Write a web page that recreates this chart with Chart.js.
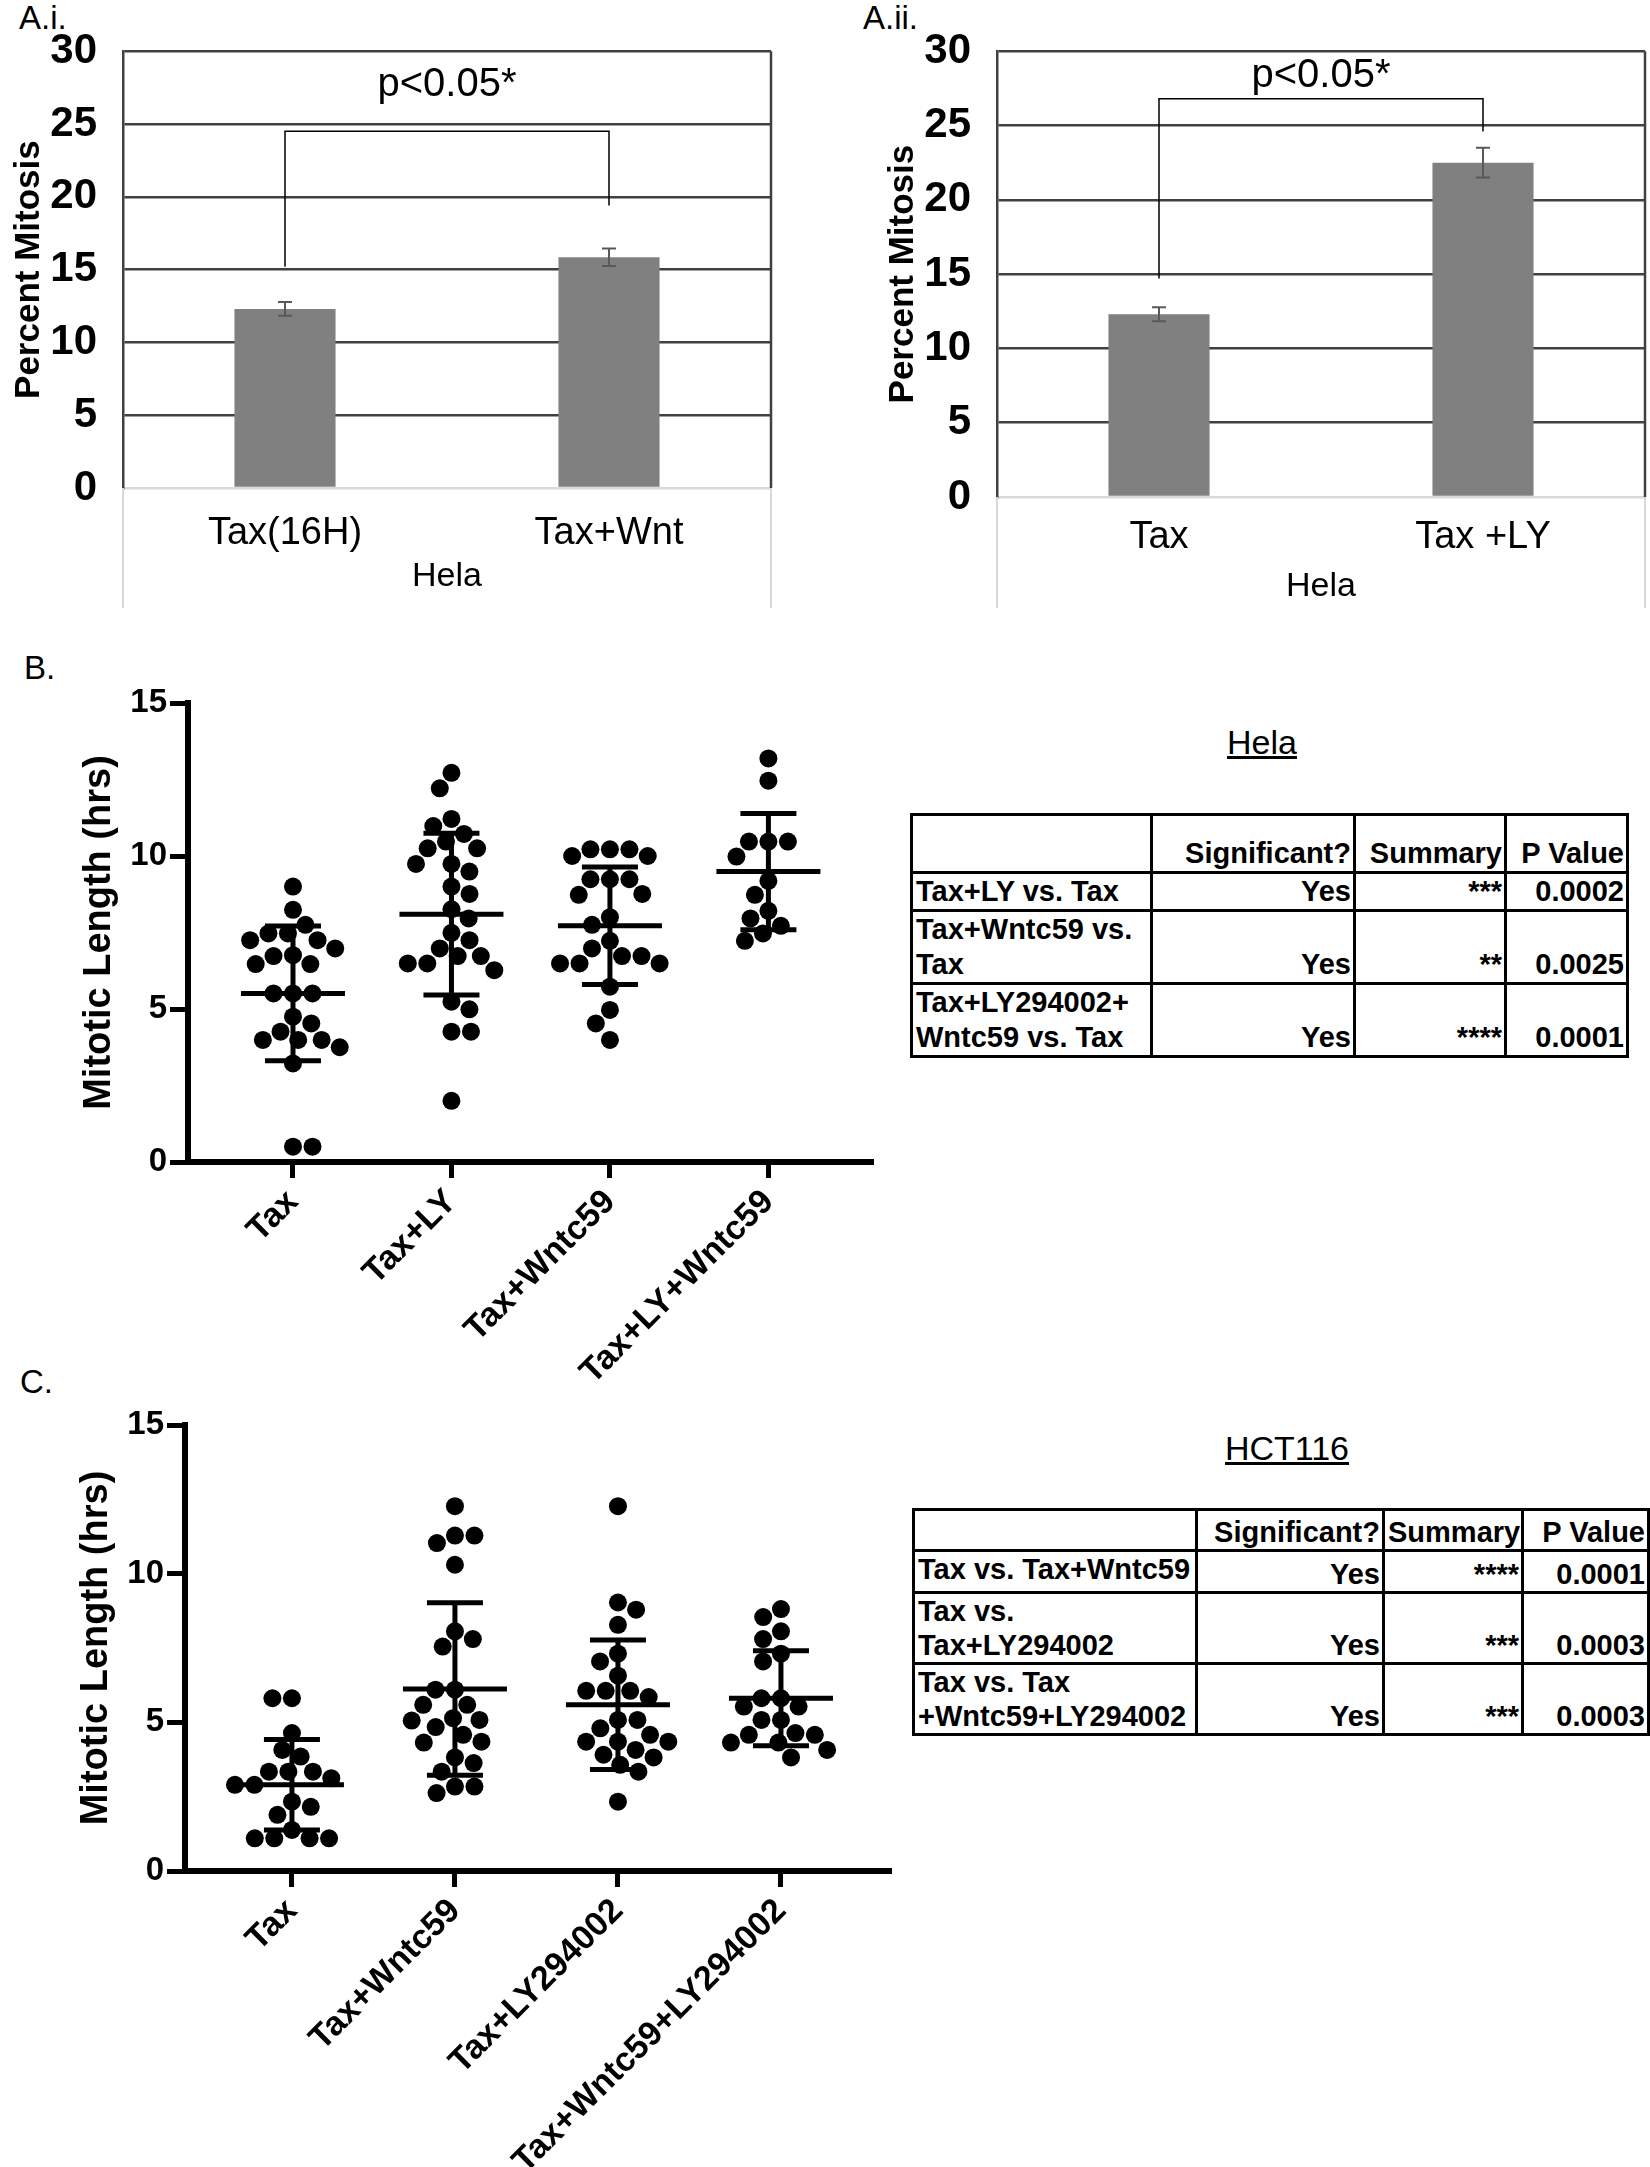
<!DOCTYPE html>
<html>
<head>
<meta charset="utf-8">
<script src="https://cdn.jsdelivr.net/npm/chart.js@4.4.0/dist/chart.umd.min.js"></script>
<style>
  body { margin: 0; background: #fff; font-family: 'Liberation Sans', Arial, sans-serif; color: #000; }
  #page { position: relative; width: 1650px; height: 2167px; overflow: hidden; }
  .box { position: absolute; }
  .lbl { position: absolute; font-size: 33px; line-height: 36px; }
  .ttl { position: absolute; font-size: 34px; line-height: 40px; text-decoration: underline; transform: translateX(-50%); }
  table.stats { position: absolute; border-collapse: collapse; table-layout: fixed; font-weight: bold; font-size: 29px; }
  table.stats td { border: 3px solid #000; padding: 0 2px 0 3px; vertical-align: bottom; text-align: right; white-space: pre; overflow: hidden; }
  table.stats td.name { text-align: left; vertical-align: top; }
</style>
</head>
<body>
<div id="page">
  <div class="lbl" style="left:19px;top:0px">A.i.</div>
  <div class="lbl" style="left:863px;top:0px">A.ii.</div>
  <div class="lbl" style="left:24px;top:650px">B.</div>
  <div class="lbl" style="left:20px;top:1364px">C.</div>
  <div class="ttl" style="left:1262px;top:722px">Hela</div>
  <div class="ttl" style="left:1287px;top:1428px">HCT116</div>

  <div class="box" style="left:0;top:0;width:810px;height:620px"><canvas id="chartAi"></canvas></div>
  <div class="box" style="left:840px;top:0;width:810px;height:620px"><canvas id="chartAii"></canvas></div>
  <div class="box" style="left:0;top:660px;width:900px;height:720px"><canvas id="chartB"></canvas></div>
  <div class="box" style="left:0;top:1380px;width:910px;height:787px"><canvas id="chartC"></canvas></div>

  <table class="stats" id="tableB" style="left:910px;top:813px;width:716px"></table>
  <table class="stats" id="tableC" style="left:912px;top:1508px;width:735px"></table>
</div>

<script>
// ---- Panel A data (percent mitosis, Hela) ----
const aiCategories = ["Tax(16H)", "Tax+Wnt"];
const aiValues = [12.3, 15.85];
const aiErrors = [0.47, 0.6];
const aiBracket = [15.2, 24.5, 19.4]; // left leg end, top, right leg end
const aiPLevel = 27.7;

const aiiCategories = ["Tax", "Tax +LY"];
const aiiValues = [12.3, 22.5];
const aiiErrors = [0.47, 1.0];
const aiiBracket = [14.7, 26.8, 24.6];
const aiiPLevel = 28.3;

const aGroup = "Hela";
const aYTitle = "Percent Mitosis";
const aPText = "p<0.05*";

// ---- Panel B data (mitotic length, Hela) ----
const bCategories = ["Tax", "Tax+LY", "Tax+Wntc59", "Tax+LY+Wntc59"];
const bTax = [9.0, 8.24, 7.75, 7.47, 7.47, 7.25, 7.25, 6.98, 6.76, 6.73, 6.47, 6.47, 5.51, 5.51, 5.51, 4.75, 4.53, 4.26, 3.99, 3.99, 3.99, 3.75, 3.22, 0.5, 0.5];
const bTaxLY = [12.72, 12.21, 11.21, 10.98, 10.72, 10.47, 10.25, 10.25, 9.74, 9.74, 9.49, 9.0, 8.76, 8.26, 7.96, 7.49, 7.25, 6.98, 6.73, 6.73, 6.49, 6.49, 6.27, 5.24, 4.99, 4.26, 4.26, 2.0];
const bTaxWnt = [10.22, 10.22, 10.22, 10.0, 10.0, 9.24, 9.24, 9.24, 8.76, 8.73, 8.0, 7.75, 7.23, 6.98, 6.73, 6.73, 6.49, 6.49, 6.49, 5.73, 4.97, 4.53, 3.99];
const bTaxLYWnt = [13.19, 12.46, 10.47, 10.47, 10.47, 9.98, 9.19, 8.73, 8.21, 7.96, 7.72, 7.47, 7.23];
const bMeans = [5.51, 8.1, 7.72, 9.49];
const bSds = [2.2, 2.64, 1.92, 1.9];

// ---- Panel C data (mitotic length, HCT116) ----
const cCategories = ["Tax", "Tax+Wntc59", "Tax+LY294002", "Tax+Wntc59+LY294002"];
const cTax = [5.81, 5.81, 4.64, 4.07, 3.85, 3.34, 3.34, 3.34, 3.12, 2.9, 2.9, 2.33, 2.16, 1.89, 1.38, 1.1, 1.1, 1.1, 1.1];
const cTaxWnt = [12.27, 11.28, 11.28, 11.03, 10.3, 8.06, 7.8, 7.55, 6.1, 6.1, 5.59, 5.59, 5.14, 5.08, 5.06, 4.84, 4.58, 4.35, 4.32, 3.82, 3.63, 3.34, 2.84, 2.84, 2.62];
const cTaxLY = [12.27, 9.03, 8.79, 8.28, 7.31, 7.05, 6.57, 6.06, 6.06, 6.06, 5.85, 5.08, 5.08, 4.8, 4.58, 4.35, 4.35, 4.35, 4.07, 3.91, 3.82, 3.57, 3.34, 2.33];
const cTaxWntLY = [8.81, 8.54, 8.06, 7.8, 7.31, 7.05, 5.81, 5.81, 5.53, 5.53, 5.08, 5.08, 4.64, 4.58, 4.58, 4.32, 4.32, 4.07, 3.82];
const cMeans = [2.9, 6.12, 5.59, 5.81];
const cSds = [1.52, 2.9, 2.18, 1.6];

const scatterYTitle = "Mitotic Length (hrs)";

// ---- Tables ----
const tableHead = ["", "Significant?", "Summary", "P Value"];
const bTableRows = [
  ["Tax+LY vs. Tax", "Yes", "***", "0.0002"],
  ["Tax+Wntc59 vs.\nTax", "Yes", "**", "0.0025"],
  ["Tax+LY294002+\nWntc59 vs. Tax", "Yes", "****", "0.0001"]
];
const cTableRows = [
  ["Tax vs. Tax+Wntc59", "Yes", "****", "0.0001"],
  ["Tax vs.\nTax+LY294002", "Yes", "***", "0.0003"],
  ["Tax vs. Tax\n+Wntc59+LY294002", "Yes", "***", "0.0003"]
];

const FONT = "'Liberation Sans', Arial, sans-serif";

Chart.defaults.font.family = FONT;
Chart.defaults.color = "#000";
Chart.defaults.animation = false;
Chart.defaults.events = [];
Chart.defaults.plugins.legend.display = false;
Chart.defaults.plugins.tooltip.enabled = false;

// Excel-style extras: right frame, category box, error bars, significance bracket
const barExtras = {
  id: "barExtras",
  afterDraw(chart, args, o) {
    const { ctx, chartArea: a, scales: { x, y } } = chart;
    const vals = chart.data.datasets[0].data;
    ctx.save();
    ctx.strokeStyle = "#404040";
    ctx.lineWidth = 2.5;
    ctx.beginPath();
    ctx.moveTo(a.right, a.top);
    ctx.lineTo(a.right, a.bottom);
    ctx.stroke();

    ctx.strokeStyle = "#d9d9d9";
    ctx.lineWidth = 2;
    ctx.beginPath();
    ctx.moveTo(a.left, a.bottom);
    ctx.lineTo(a.left, o.boxBottom);
    ctx.moveTo(a.right, a.bottom);
    ctx.lineTo(a.right, o.boxBottom);
    ctx.stroke();

    ctx.strokeStyle = "#595959";
    ctx.lineWidth = 2;
    o.errors.forEach((e, i) => {
      const cx = x.getPixelForValue(i);
      const y1 = y.getPixelForValue(vals[i] + e);
      const y2 = y.getPixelForValue(vals[i] - e);
      ctx.beginPath();
      ctx.moveTo(cx, y1); ctx.lineTo(cx, y2);
      ctx.moveTo(cx - 7, y1); ctx.lineTo(cx + 7, y1);
      ctx.moveTo(cx - 7, y2); ctx.lineTo(cx + 7, y2);
      ctx.stroke();
    });

    const [l, t, r] = o.bracket;
    const x0 = x.getPixelForValue(0), x1 = x.getPixelForValue(1);
    ctx.strokeStyle = "#000";
    ctx.lineWidth = 1.5;
    ctx.beginPath();
    ctx.moveTo(x0, y.getPixelForValue(l));
    ctx.lineTo(x0, y.getPixelForValue(t));
    ctx.lineTo(x1, y.getPixelForValue(t));
    ctx.lineTo(x1, y.getPixelForValue(r));
    ctx.stroke();

    ctx.font = "40px " + FONT;
    ctx.fillStyle = "#000";
    ctx.textAlign = "center";
    ctx.textBaseline = "middle";
    ctx.fillText(o.pText, (a.left + a.right) / 2, y.getPixelForValue(o.pLevel));
    ctx.restore();
  }
};

function barPanel(id, cats, vals, errs, bracket, pLevel, lay) {
  return new Chart(document.getElementById(id), {
    type: "bar",
    data: {
      labels: cats,
      datasets: [{ data: vals, backgroundColor: "#808080", barPercentage: 0.312, categoryPercentage: 1 }]
    },
    options: {
      responsive: true,
      maintainAspectRatio: false,
      layout: { padding: { top: 48, right: lay.padRight, left: 0, bottom: 0 } },
      plugins: {
        barExtras: { errors: errs, bracket: bracket, pLevel: pLevel, pText: aPText, boxBottom: 608 }
      },
      scales: {
        x: {
          grid: { display: false },
          border: { display: true, color: "#d9d9d9", width: 2 },
          ticks: { font: { size: 38 }, padding: lay.labelMid - 22.8, maxRotation: 0, autoSkip: false },
          title: { display: true, text: aGroup, font: { size: 34 }, padding: { top: 0, bottom: lay.groupOffset - 20.4 } },
          afterFit: (s) => { s.height = lay.xHeight; }
        },
        y: {
          min: 0,
          max: 30,
          ticks: { stepSize: 5, font: { size: 42, weight: "bold" }, padding: 26 },
          grid: {
            color: (c) => (c.tick && c.tick.value === 0 ? "#d9d9d9" : "#404040"),
            lineWidth: 2.5,
            drawTicks: false
          },
          border: { display: true, color: "#404040", width: 2.5 },
          title: { display: true, text: aYTitle, font: { size: 35, weight: "bold" }, padding: { top: lay.titleMid - 21 } },
          afterFit: (s) => { s.width = lay.yWidth; }
        }
      }
    },
    plugins: [barExtras]
  });
}

barPanel("chartAi", aiCategories, aiValues, aiErrors, aiBracket, aiPLevel,
  { padRight: 39, labelMid: 38, groupOffset: 43, xHeight: 132, titleMid: 29, yWidth: 123 });
barPanel("chartAii", aiiCategories, aiiValues, aiiErrors, aiiBracket, aiiPLevel,
  { padRight: 5, labelMid: 33, groupOffset: 33, xHeight: 123, titleMid: 63, yWidth: 157 });

// GraphPad-style mean and SD lines
const meanSd = {
  id: "meanSd",
  afterDatasetsDraw(chart, args, o) {
    const { ctx, scales: { x, y } } = chart;
    ctx.save();
    ctx.strokeStyle = "#000";
    ctx.lineWidth = 5;
    o.means.forEach((m, i) => {
      const cx = x.getPixelForValue(i + 1);
      const ym = y.getPixelForValue(m);
      const yt = y.getPixelForValue(m + o.sds[i]);
      const yb = y.getPixelForValue(m - o.sds[i]);
      ctx.beginPath();
      ctx.moveTo(cx - 52, ym); ctx.lineTo(cx + 52, ym);
      ctx.moveTo(cx - 28, yt); ctx.lineTo(cx + 28, yt);
      ctx.moveTo(cx - 28, yb); ctx.lineTo(cx + 28, yb);
      ctx.moveTo(cx, yt); ctx.lineTo(cx, yb);
      ctx.stroke();
    });
    ctx.restore();
  }
};

// beeswarm: spread dots sideways so they do not overlap (pixel offsets)
function swarm(values, yScale, diam) {
  const order = values.map((v, i) => i).sort((a, b) => values[b] - values[a]);
  const placed = [];
  const offs = new Array(values.length);
  order.forEach((i, n) => {
    const py = yScale.getPixelForValue(values[i]);
    const cands = [0];
    placed.forEach((p) => {
      const dy = Math.abs(p.y - py);
      if (dy < diam) {
        const dx = Math.sqrt(diam * diam - dy * dy);
        cands.push(p.x + dx, p.x - dx);
      }
    });
    const side = n % 2 ? -1 : 1;
    cands.sort((a, b) => Math.abs(a) - Math.abs(b) || side * (b - a));
    const px = cands.find((c) => placed.every((p) => (p.x - c) ** 2 + (p.y - py) ** 2 >= diam * diam - 0.5));
    placed.push({ x: px, y: py });
    offs[i] = px;
  });
  return offs;
}

function scatterPanel(id, cats, groups, means, sds, range, lay) {
  const chart = new Chart(document.getElementById(id), {
    type: "scatter",
    data: {
      datasets: [{
        data: groups.flatMap((g, i) => g.map((v) => ({ x: i + 1, y: v }))),
        backgroundColor: "#000",
        borderWidth: 0,
        pointRadius: 9,
        clip: false
      }]
    },
    options: {
      responsive: true,
      maintainAspectRatio: false,
      layout: { padding: { top: lay.top, right: lay.padRight, left: 0, bottom: 0 } },
      plugins: { meanSd: { means: means, sds: sds } },
      scales: {
        x: {
          type: "linear",
          min: range[0],
          max: range[1],
          afterBuildTicks: (s) => { s.ticks = cats.map((c, i) => ({ value: i + 1 })); },
          ticks: {
            callback: (v) => cats[v - 1],
            minRotation: 45,
            maxRotation: 45,
            autoSkip: false,
            font: { size: 34, weight: "bold" },
            padding: 4
          },
          grid: { drawOnChartArea: false, drawTicks: true, tickLength: 16, tickWidth: 5, tickColor: "#000" },
          border: { display: true, width: 6, color: "#000" },
          afterFit: (s) => { s.height = lay.xHeight; }
        },
        y: {
          min: 0,
          max: 15,
          ticks: { stepSize: 5, font: { size: 33, weight: "bold" }, padding: 3 },
          grid: { drawOnChartArea: false, drawTicks: true, tickLength: 18, tickWidth: 5, tickColor: "#000" },
          border: { display: true, width: 6, color: "#000" },
          title: { display: true, text: scatterYTitle, font: { size: 38, weight: "bold" }, padding: { top: lay.titleMid - 22.8 } },
          afterFit: (s) => { s.width = lay.yWidth; }
        }
      }
    },
    plugins: [meanSd]
  });
  const xs = chart.scales.x, ys = chart.scales.y;
  const unit = xs.getPixelForValue(2) - xs.getPixelForValue(1);
  chart.data.datasets[0].data = groups.flatMap((g, i) =>
    swarm(g, ys, 19.5).map((dx, k) => ({ x: i + 1 + dx / unit, y: g[k] })));
  chart.update("none");
  return chart;
}

scatterPanel("chartB", bCategories, [bTax, bTaxLY, bTaxWnt, bTaxLYWnt], bMeans, bSds, [0.3375, 4.66],
  { top: 43, padRight: 27, xHeight: 218, yWidth: 188, titleMid: 100 });
scatterPanel("chartC", cCategories, [cTax, cTaxWnt, cTaxLY, cTaxWntLY], cMeans, cSds, [0.344, 4.675],
  { top: 45, padRight: 19, xHeight: 296, yWidth: 185, titleMid: 97 });

// stats tables
function buildTable(id, head, rows, colWidths, rowHeights, lineHeight) {
  const t = document.getElementById(id);
  const cg = document.createElement("colgroup");
  colWidths.forEach((w) => {
    const c = document.createElement("col");
    c.style.width = w + "px";
    cg.appendChild(c);
  });
  t.appendChild(cg);
  [head].concat(rows).forEach((r, ri) => {
    const tr = document.createElement("tr");
    tr.style.height = rowHeights[ri] + "px";
    r.forEach((txt, ci) => {
      const td = document.createElement("td");
      if (ci === 0 && ri > 0) td.className = "name";
      td.style.lineHeight = lineHeight + "px";
      td.textContent = txt;
      tr.appendChild(td);
    });
    t.appendChild(tr);
  });
}
buildTable("tableB", tableHead, bTableRows, [240, 203, 151, 122], [58, 37, 72, 73], 35);
buildTable("tableC", tableHead, cTableRows, [283, 187, 139, 126], [41, 42, 71, 71], 34);
</script>
</body>
</html>
